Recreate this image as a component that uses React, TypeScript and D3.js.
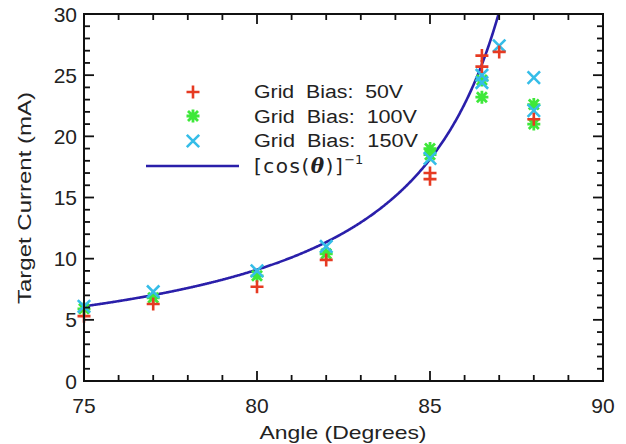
import React from "react";
import * as d3 from "d3";

const W = 626;
const H = 444;
const M = { left: 84, top: 14, right: 603, bottom: 381 };

const xDomain = [75, 90];
const yDomain = [0, 30];
const xTicks = [75, 80, 85, 90];
const yTicks = [0, 5, 10, 15, 20, 25, 30];

// series: [angle, current]
const bias50: [number, number][] = [
  [75, 5.3], [77, 6.3], [80, 7.7], [82, 9.9], [85, 17.0], [85, 16.5],
  [86.5, 26.6], [86.5, 25.7], [87, 26.9], [88, 21.4],
];
const bias100: [number, number][] = [
  [75, 5.9], [77, 6.8], [80, 8.6], [82, 10.4], [85, 19.0], [85, 18.5],
  [86.5, 23.2], [86.5, 24.6], [88, 22.6], [88, 21.0],
];
const bias150: [number, number][] = [
  [75, 6.1], [77, 7.3], [80, 9.0], [82, 11.0], [85, 18.2],
  [86.5, 25.0], [86.5, 24.4], [87, 27.4], [88, 24.8], [88, 22.1],
];
const fitScale = 1.58;
const legendLabels = ["Grid  Bias:  50V", "Grid  Bias:  100V", "Grid  Bias:  150V"];

const RED = "#e63a22";
const GREEN = "#3ee83a";
const CYAN = "#35bde8";
const NAVY = "#2a1faa";

function Plus({ x, y, c }: { x: number; y: number; c: string }) {
  const s = 6.5;
  return <path d={`M${x - s},${y}H${x + s}M${x},${y - s}V${y + s}`} stroke={c} strokeWidth={2.6} fill="none" />;
}
function Cross({ x, y, c }: { x: number; y: number; c: string }) {
  const s = 6.2;
  return <path d={`M${x - s},${y - s}L${x + s},${y + s}M${x - s},${y + s}L${x + s},${y - s}`} stroke={c} strokeWidth={2.6} fill="none" />;
}
function Star({ x, y, c }: { x: number; y: number; c: string }) {
  const s = 6.5;
  const d = 5;
  return (
    <path
      d={`M${x - s},${y}H${x + s}M${x},${y - s}V${y + s}M${x - d},${y - d}L${x + d},${y + d}M${x - d},${y + d}L${x + d},${y - d}`}
      stroke={c}
      strokeWidth={2.8}
      fill="none"
    />
  );
}

export default function App() {
  const x = d3.scaleLinear().domain(xDomain).range([M.left, M.right]);
  const y = d3.scaleLinear().domain(yDomain).range([M.bottom, M.top]);

  const xMinor = d3.range(75, 91, 1);
  const yMinor = d3.range(0, 31, 1);

  const curvePts: [number, number][] = [];
  for (let a = 75; a < 89.9; a += 0.02) {
    const v = fitScale / Math.cos((a * Math.PI) / 180);
    curvePts.push([a, v]);
    if (v > 31) break;
  }
  const line = d3.line<[number, number]>().x((d) => x(d[0])).y((d) => y(d[1]));

  const font = "'Liberation Sans', Arial, sans-serif";

  return (
    <svg width={W} height={H} style={{ position: "absolute", left: 0, top: 0, background: "#fff" }} fontFamily={font}>
      <defs>
        <clipPath id="plot">
          <rect x={M.left} y={M.top} width={M.right - M.left} height={M.bottom - M.top} />
        </clipPath>
      </defs>
      <rect width={W} height={H} fill="#fff" />
      {/* curve */}
      <path d={line(curvePts) || ""} fill="none" stroke={NAVY} strokeWidth={2.6} clipPath="url(#plot)" />
      {/* points */}
      {bias100.map((d, i) => <Star key={"g" + i} x={x(d[0])} y={y(d[1])} c={GREEN} />)}
      {bias150.map((d, i) => <Cross key={"c" + i} x={x(d[0])} y={y(d[1])} c={CYAN} />)}
      {bias50.map((d, i) => <Plus key={"r" + i} x={x(d[0])} y={y(d[1])} c={RED} />)}

      {/* frame */}
      <rect x={M.left} y={M.top} width={M.right - M.left} height={M.bottom - M.top} fill="none" stroke="#111" strokeWidth={2} />
      {/* x ticks */}
      {xMinor.map((v) => {
        const major = v % 5 === 0;
        const L = major ? 10 : 6;
        return (
          <g key={"xt" + v} stroke="#111" strokeWidth={1.8}>
            <line x1={x(v)} x2={x(v)} y1={M.bottom} y2={M.bottom - L} />
            <line x1={x(v)} x2={x(v)} y1={M.top} y2={M.top + L} />
          </g>
        );
      })}
      {yMinor.map((v) => {
        const major = v % 5 === 0;
        const L = major ? 10 : 6;
        return (
          <g key={"yt" + v} stroke="#111" strokeWidth={1.8}>
            <line x1={M.left} x2={M.left + L} y1={y(v)} y2={y(v)} />
            <line x1={M.right} x2={M.right - L} y1={y(v)} y2={y(v)} />
          </g>
        );
      })}
      {xTicks.map((v) => (
        <text key={"xl" + v} x={x(v)} y={413} textAnchor="middle" fontSize={21} fill="#222">{v}</text>
      ))}
      {yTicks.map((v) => (
        <text key={"yl" + v} x={77} y={y(v) + 7.5} textAnchor="end" fontSize={21} fill="#222">{v}</text>
      ))}
      <text x={343} y={439} textAnchor="middle" fontSize={19} fill="#222" textLength={167} lengthAdjust="spacingAndGlyphs">Angle (Degrees)</text>
      <text transform={`translate(31,198) rotate(-90)`} textAnchor="middle" fontSize={19} fill="#222" textLength={212} lengthAdjust="spacingAndGlyphs">Target Current (mA)</text>

      {/* legend */}
      <Plus x={193} y={92} c={RED} />
      <Star x={193} y={116} c={GREEN} />
      <Cross x={193} y={141} c={CYAN} />
      <line x1={146} x2={239} y1={166} y2={166} stroke={NAVY} strokeWidth={2.6} />
      {legendLabels.map((t, i) => (
        <text key={t} x={254} y={98 + i * 24.7} fontSize={18} fill="#222" style={{ whiteSpace: "pre" }} textLength={[149, 163, 164][i]} lengthAdjust="spacingAndGlyphs">{t}</text>
      ))}
      <text x={254} y={173} fontSize={20} fill="#222" fontFamily="'DejaVu Sans', sans-serif" letterSpacing={1.5}>
        <tspan>[cos(</tspan>
        <tspan fontWeight="bold" fontStyle="italic" fontFamily="'DejaVu Serif', serif">θ</tspan>
        <tspan>)]</tspan>
        <tspan dy={-9} fontSize={13} letterSpacing={0}>−1</tspan>
      </text>
    </svg>
  );
}
